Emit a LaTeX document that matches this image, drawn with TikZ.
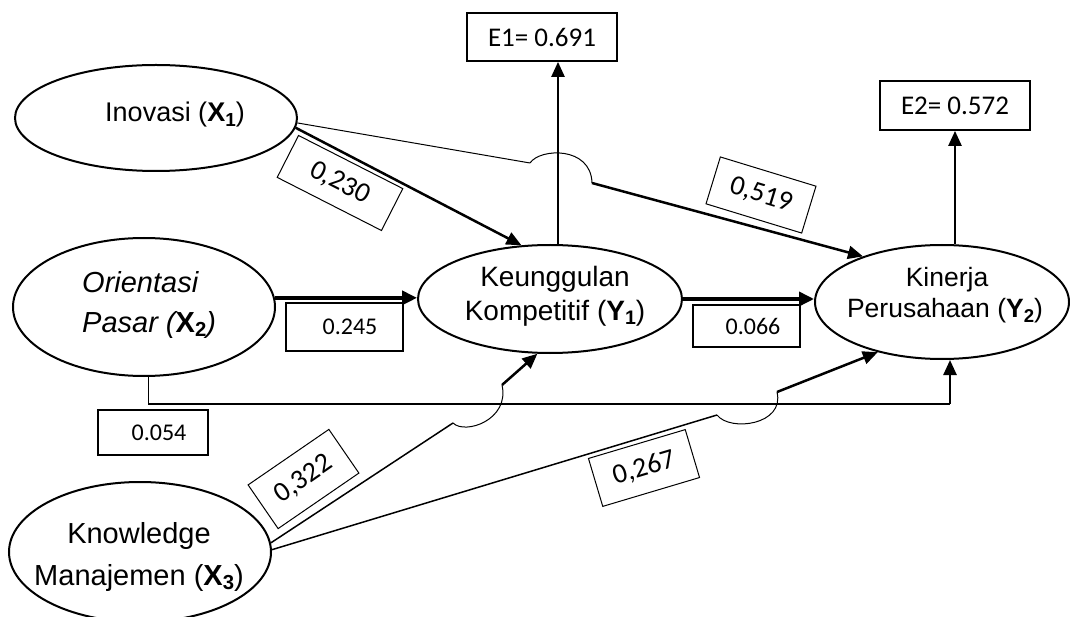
\documentclass[tikz,border=0pt]{standalone}
\usepackage{fontspec}
\setmainfont{Liberation Sans}
\newfontfamily\carl{Carlito}
\usepackage{graphicx}
\usetikzlibrary{shapes.geometric,arrows.meta}
\newcommand\bsub[2]{{\upshape\bfseries #1\raisebox{-0.3ex}{\scalebox{0.7}{#2}}}}
\tikzset{
  lv/.style={ellipse,draw,line width=2pt,inner sep=0pt},
  tx/.style={anchor=base,inner sep=0pt},
  ebox/.style={draw,line width=1.8pt,inner sep=0pt,font=\carl\fontsize{27}{27}\selectfont},
  valbox/.style={draw,line width=1.8pt,inner sep=0pt,font=\carl\fontsize{24}{24}\selectfont},
  rotbox/.style={draw,line width=1pt,inner sep=0pt,font=\carl\fontsize{28}{28}\selectfont},
  arr/.style={line width=2.5pt,-{Triangle[length=15pt,width=13pt]}},
  harr/.style={line width=3.5pt,-{Triangle[length=15pt,width=14pt]}},
  thinln/.style={line width=1pt},
  midln/.style={line width=1.5pt},
  hump/.style={line width=1pt},
}
\begin{document}
\begin{tikzpicture}[x=1pt,y=-1pt]
\useasboundingbox (0,0) rectangle (1070,617);

% latent variables
\node[lv,minimum width=282pt,minimum height=106pt] (x1) at (156,118) {};
\node[lv,minimum width=262pt,minimum height=138pt] (x2) at (144,307) {};
\node[lv,minimum width=264pt,minimum height=108pt] (y1) at (550,299) {};
\node[lv,minimum width=254pt,minimum height=114pt] (y2) at (942,302) {};
\node[lv,minimum width=262pt,minimum height=140pt] (x3) at (140,552) {};

% texts
\node[tx,font=\fontsize{27}{27}\selectfont] (x1t) at (175,122) {Inovasi (\bsub{X}{1})};
\node[tx,anchor=base west,font=\fontsize{29}{29}\selectfont\itshape] (x2ta) at (82,293) {Orientasi};
\node[tx,anchor=base west,font=\fontsize{29}{29}\selectfont\itshape] (x2tb) at (82,332) {Pasar (\bsub{X}{2})};
\node[tx,font=\fontsize{28}{28}\selectfont] (y1ta) at (555,287) {Keunggulan};
\node[tx,font=\fontsize{28}{28}\selectfont] (y1tb) at (555,320) {Kompetitif (\bsub{Y}{1})};
\node[tx,font=\fontsize{26.5}{26.5}\selectfont] (y2ta) at (947,287) {Kinerja};
\node[tx,font=\fontsize{26.5}{26.5}\selectfont] (y2tb) at (945,318) {Perusahaan (\bsub{Y}{2})};
\node[tx,font=\fontsize{29}{29}\selectfont] (x3ta) at (139,543) {Knowledge};
\node[tx,font=\fontsize{29}{29}\selectfont] (x3tb) at (139,585) {Manajemen (\bsub{X}{3})};

% error boxes
\node[ebox,minimum width=150pt,minimum height=48pt] (e1) at (542,37) {E1= 0.691};
\node[ebox,minimum width=150pt,minimum height=49pt] (e2) at (955,105.5) {E2= 0.572};

% value boxes
\node[valbox,minimum width=117pt,minimum height=48pt] (b245) at (344.5,327) {\hspace*{11pt}0.245};
\node[valbox,minimum width=107pt,minimum height=42pt] (b066) at (746.5,326) {\hspace*{13pt}0.066};
\node[valbox,minimum width=110pt,minimum height=45pt] (b054) at (153,432.5) {\hspace*{12pt}0.054};

\node[rotbox,minimum width=117pt,minimum height=47pt,rotate=-27] (b230) at (340,183) {0,230};
\node[rotbox,minimum width=100pt,minimum height=49pt,rotate=-17] (b519) at (761,195) {0,519};
\node[rotbox,minimum width=98pt,minimum height=53pt,rotate=34.5] (b322) at (303.5,479) {0,322};
\node[rotbox,minimum width=101pt,minimum height=50pt,rotate=16.6] (b267) at (644,468) {0,267};

% X1 -> Y1
\draw[arr] (x1.-4) -- (y1.118);
% X1 -> Y2 with bridge
\coordinate (h1a) at (530,163);
\coordinate (h1b) at (592,183);
\draw[thinln] (x1.-2) -- (h1a);
\draw[hump] (h1a) .. controls (540,148) and (591,146) .. (h1b);
\draw[arr] (h1b) -- (y2.150);

% X2 -> Y1, Y1 -> Y2
\draw[harr] (x2.4) -- (x2.4 -| y1.west);
\draw[harr] (y1.east) -- (y1.east -| y2.west);

% residual arrows
\draw[arr] ([xshift=8pt]y1.north) -- ([xshift=8pt]y1.north |- e1.south);
\draw[arr] (e2.south |- y2.north) -- (e2.south);

% X2 -> Y2
\coordinate (c1) at (148,404);
\coordinate (c2) at (950,404);
\draw[thinln] ([xshift=4pt]x2.south) -- (c1);
\draw[line width=1.8pt] (c1) -- (c2);
\draw[arr] (c2) -- (c2 |- y2.south);

% X3 -> Y1
\coordinate (h2a) at (453,423);
\coordinate (h2b) at (502,385);
\draw[midln] (x3.4) -- (h2a);
\draw[hump] (h2a) .. controls (465,435) and (510,420) .. (h2b);
\draw[arr] (h2b) -- (y1.257);

% X3 -> Y2
\coordinate (h3a) at (717,415);
\coordinate (h3b) at (777,392);
\draw[midln] (x3.1) -- (h3a);
\draw[hump] (h3a) .. controls (730,432) and (785,425) .. (h3b);
\draw[arr] (h3b) -- (y2.218);
\end{tikzpicture}
\end{document}
